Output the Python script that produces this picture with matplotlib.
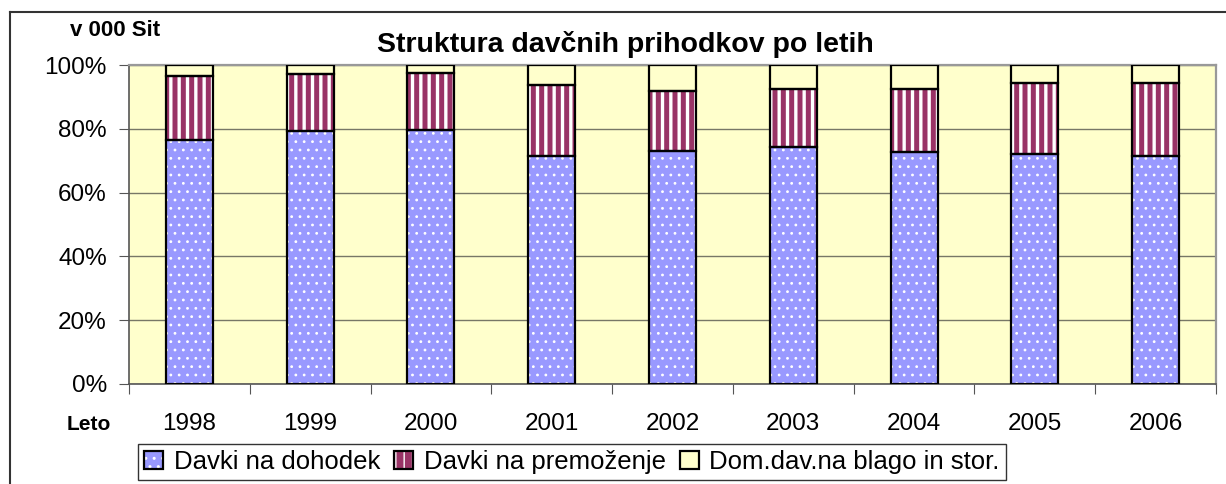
import matplotlib

matplotlib.use("Agg")

import matplotlib.pyplot as plt
from matplotlib.lines import Line2D
from matplotlib.patches import Patch
import numpy as np

plt.rcParams["font.family"] = ["Liberation Sans", "DejaVu Sans"]

years = ["1998", "1999", "2000", "2001", "2002", "2003", "2004", "2005", "2006"]
dohodek = [76.4, 79.3, 79.7, 71.5, 73.0, 74.2, 72.8, 72.2, 71.6]
premozenje = [20.3, 17.9, 17.9, 22.1, 18.9, 18.2, 19.8, 22.3, 22.9]
blago = [3.3, 2.8, 2.4, 6.4, 8.1, 7.6, 7.4, 5.5, 5.5]
labels = ["Davki na dohodek", "Davki na premoženje", "Dom.dav.na blago in stor."]

# face, hatch colour, hatch pattern, hatch width
STYLES = [
    ("#9999FF", "white", "..", 0.8),
    ("#993366", "white", "||", 2.4),
    ("#FFFFCC", "#FFFFCC", "", 0.5),
]

fig = plt.figure(figsize=(12.26, 4.84), dpi=100)
ax = fig.add_axes([129 / 1226, 1 - 384 / 484, (1216 - 129) / 1226, (384 - 65) / 484])
ax.set_facecolor("#FFFFCC")

x = np.arange(len(years))
width = 0.39
bottom = np.zeros(len(years))
handles = []
for values, (face, hcol, hatch, hlw), label in zip([dohodek, premozenje, blago], STYLES, labels):
    bars = ax.bar(x, values, width, bottom=bottom, color=face, edgecolor=hcol, linewidth=0,
                  hatch=hatch, zorder=2)
    for b in bars:
        if hasattr(b, "set_hatch_linewidth"):
            b.set_hatch_linewidth(hlw)
    ax.bar(x, values, width, bottom=bottom, fill=False, edgecolor="black", linewidth=1.6, zorder=3)
    bottom += np.array(values)
    h1 = Patch(facecolor=face, edgecolor=hcol, linewidth=0, hatch=hatch)
    if hasattr(h1, "set_hatch_linewidth"):
        h1.set_hatch_linewidth(hlw)
    h2 = Patch(fill=False, edgecolor="black", linewidth=1.6)
    handles.append((h1, h2))

ax.set_xlim(-0.5, len(years) - 0.5)
ax.set_ylim(0, 100)
ax.set_yticks(np.arange(0, 101, 20))
ax.set_yticklabels([f"{v}%" for v in range(0, 101, 20)])
ax.yaxis.grid(True, color="#777766", linewidth=1.0, zorder=0)
ax.set_axisbelow(True)

ax.set_xticks(np.arange(-0.5, len(years)), labels=[""] * (len(years) + 1))
ax.set_xticks(x, labels=years, minor=True)
ax.tick_params(axis="x", which="major", length=7, color="#555555", direction="out")
ax.tick_params(axis="x", which="minor", length=0, pad=21, labelsize=17.5)
ax.tick_params(axis="y", length=7, color="#555555", labelsize=17.5, pad=9)

for side in ["top", "right"]:
    ax.spines[side].set_color("#999999")
    ax.spines[side].set_linewidth(1.6)
for side in ["left", "bottom"]:
    ax.spines[side].set_color("#555555")
    ax.spines[side].set_linewidth(1.2)

fig.text(625 / 1226, 1 - 45 / 484, "Struktura davčnih prihodkov po letih", ha="center", va="center",
         fontsize=20.5, fontweight="bold")
fig.text(115 / 1226, 1 - 30 / 484, "v 000 Sit", ha="center", va="center", fontsize=16, fontweight="bold")
fig.text(89 / 1226, 1 - 424 / 484, "Leto", ha="center", va="center", fontsize=15, fontweight="bold")

leg = fig.legend(handles, labels, loc="center", bbox_to_anchor=(572 / 1226, 1 - 462 / 484), ncol=3,
                 fontsize=18.5, frameon=True, fancybox=False, edgecolor="black", handlelength=0.75,
                 handleheight=0.75, handletextpad=0.4, columnspacing=0.55, borderpad=0.25,
                 borderaxespad=0)
leg.get_frame().set_linewidth(1.0)

# outer chart border
fig.add_artist(Line2D([10 / 1226, 10 / 1226], [0, 1 - 12 / 484], color="#333333", linewidth=1.5))
fig.add_artist(Line2D([10 / 1226, 1], [1 - 12 / 484, 1 - 12 / 484], color="#333333", linewidth=1.5))

fig.savefig("out.png", dpi=100, facecolor="white")
plt.close(fig)
